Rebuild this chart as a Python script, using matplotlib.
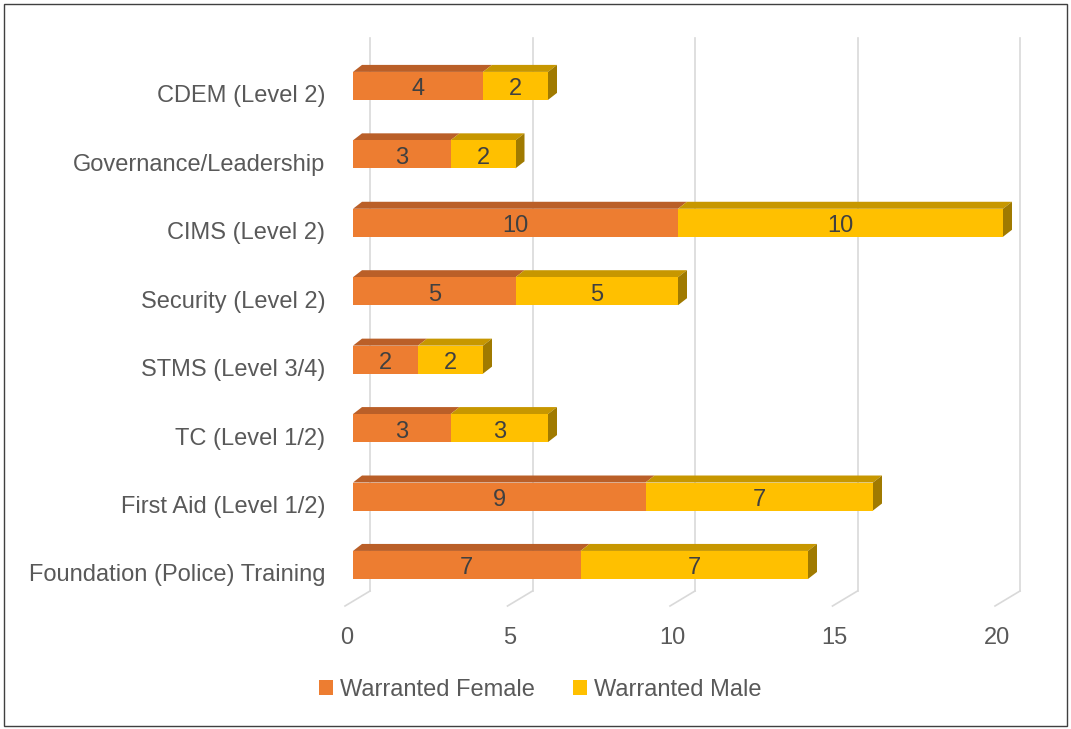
import matplotlib.pyplot as plt
import matplotlib.transforms as mtransforms
from matplotlib.patches import Polygon, Rectangle

courses = ['Foundation (Police) Training', 'First Aid (Level 1/2)', 'TC (Level 1/2)',
           'STMS (Level 3/4)', 'Security (Level 2)', 'CIMS (Level 2)',
           'Governance/Leadership', 'CDEM (Level 2)']
female = [7, 9, 3, 2, 5, 10, 3, 4]
male = [7, 7, 3, 2, 5, 10, 2, 2]
ticks = [0, 5, 10, 15, 20]

plt.rcParams['font.family'] = ['Liberation Sans', 'DejaVu Sans']
text_col = '#595959'
fem_front, fem_top = '#ED7D31', '#BA5F28'
male_front, male_top, male_side = '#FFC000', '#C79700', '#A07A00'

W, H = 1071, 729
fig = plt.figure(figsize=(W / 100, H / 100), dpi=100)
left, right, top, bottom = 353, 1003, 38, 606
ax = fig.add_axes([left / W, 1 - bottom / H, (right - left) / W, (bottom - top) / H])
ax.set_xlim(0, 20)
ax.set_ylim(-0.6, 7.7)

# pixel -> data unit conversion for the fake 3d depth
ux = 20 / (right - left)
uy = 8.3 / (bottom - top)
bar_h = 28 * uy
dx, dy = 9 * ux, 7 * uy          # bar depth
back_x = 17 * ux                 # back wall offset
front_x, front_y = -8 * ux, -15 * uy

y_floor = -0.6 - front_y
for v in ticks:
    ax.plot([v + back_x, v + back_x], [y_floor, 7.7], color='#D9D9D9', lw=1.2,
            zorder=0, clip_on=False)
    ax.plot([v + back_x, v + front_x], [y_floor, -0.6], color='#D9D9D9', lw=1.2,
            zorder=0, clip_on=False)

for i, (f, m) in enumerate(zip(female, male)):
    yt = i + bar_h / 2
    yb = i - bar_h / 2
    ax.add_patch(Polygon([(0, yt), (f, yt), (f + dx, yt + dy), (dx, yt + dy)],
                         closed=True, fc=fem_top, ec='none', zorder=2, clip_on=False))
    ax.add_patch(Polygon([(f, yt), (f + m, yt), (f + m + dx, yt + dy), (f + dx, yt + dy)],
                         closed=True, fc=male_top, ec='none', zorder=2, clip_on=False))
    ax.add_patch(Polygon([(f + m, yb), (f + m, yt), (f + m + dx, yt + dy), (f + m + dx, yb + dy)],
                         closed=True, fc=male_side, ec='none', zorder=2, clip_on=False))

b1 = ax.barh(range(len(courses)), female, height=bar_h, color=fem_front,
             label='Warranted Female', zorder=3)
b2 = ax.barh(range(len(courses)), male, left=female, height=bar_h, color=male_front,
             label='Warranted Male', zorder=3)
for bars in (b1, b2):
    for t in ax.bar_label(bars, label_type='center', fontsize=17, color='#404040'):
        t.xyann = (0, -2.5)

for s in ax.spines.values():
    s.set_visible(False)
ax.set_facecolor('none')
ax.set_xticks(ticks)
ax.set_yticks(range(len(courses)))
ax.set_yticklabels(courses)
ax.tick_params(length=0, labelsize=17, labelcolor=text_col)
ax.tick_params(axis='y', pad=20)
ax.tick_params(axis='x', pad=15)
off_x = mtransforms.ScaledTranslation(-6 / 100, 0, fig.dpi_scale_trans)
for lab in ax.get_xticklabels():
    lab.set_transform(lab.get_transform() + off_x)
off_y = mtransforms.ScaledTranslation(0, -8 / 100, fig.dpi_scale_trans)
for lab in ax.get_yticklabels():
    lab.set_transform(lab.get_transform() + off_y)

fig.legend(handles=[b1, b2], loc='center', bbox_to_anchor=(540 / W, 1 - 690 / H),
           ncol=2, frameon=False, fontsize=17, labelcolor=text_col,
           handlelength=0.6, handleheight=0.6, handletextpad=0.3, columnspacing=1.6)

fig.patches.append(Rectangle((4 / W, 3 / H), 1063 / W, 722 / H, transform=fig.transFigure,
                             fill=False, ec='#404040', lw=1))

fig.savefig('out.png', dpi=100)
